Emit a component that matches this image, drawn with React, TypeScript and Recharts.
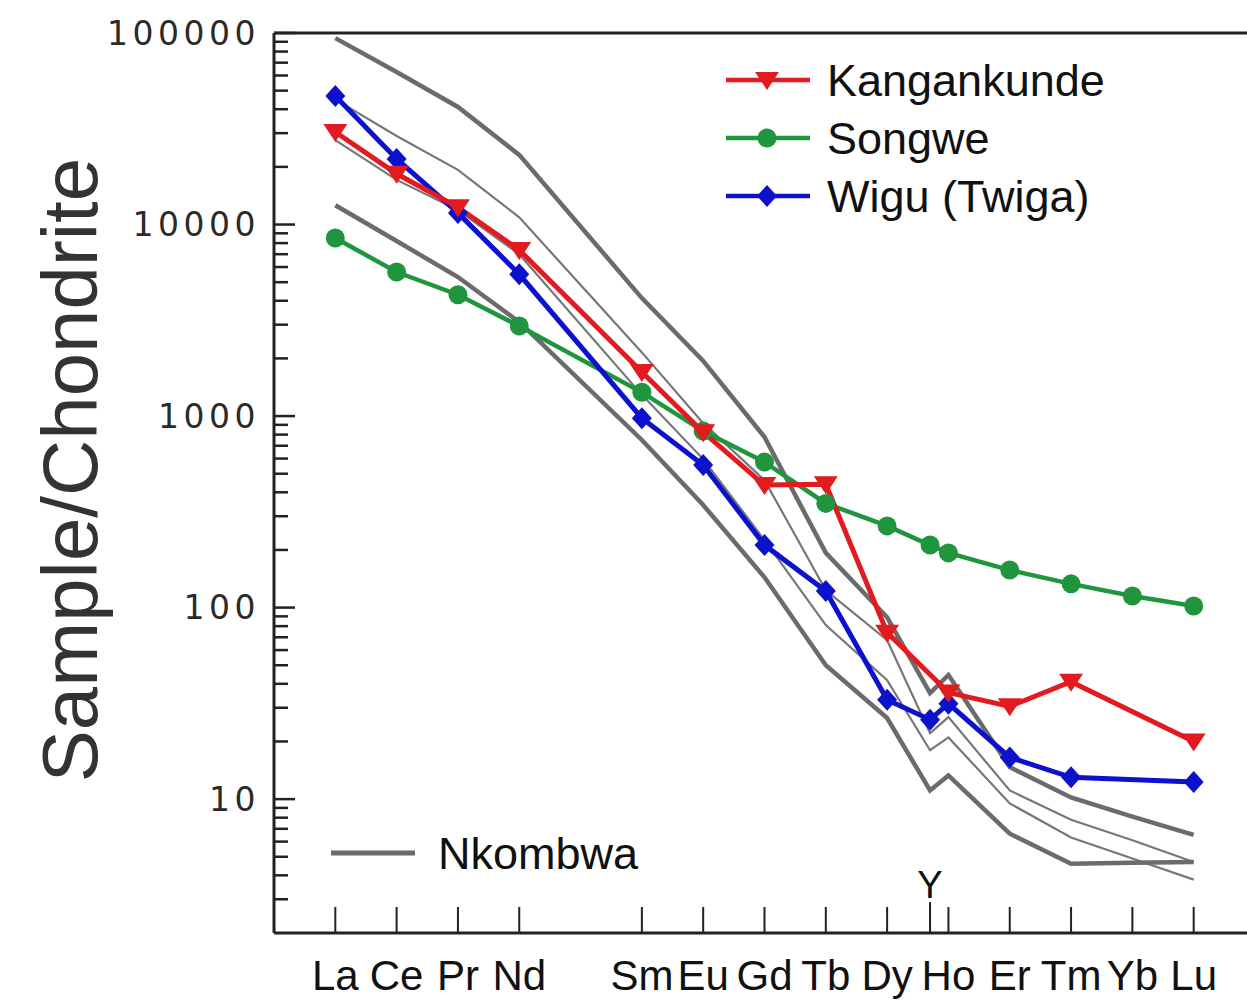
import { LineChart, Line, XAxis, YAxis, ReferenceLine, Legend } from "recharts";

const CHART_W = 1300;
const CHART_H = 1001;

// REE + Y, in order along the x axis
const ELEMENTS = ["La", "Ce", "Pr", "Nd", "Sm", "Eu", "Gd", "Tb", "Dy", "Y", "Ho", "Er", "Tm", "Yb", "Lu"];
// atomic-number style positions (Pm left empty, Y squeezed in just before Ho)
const X_POS = [57, 58, 59, 60, 62, 63, 64, 65, 66, 66.7, 67, 68, 69, 70, 71];

const KANGANKUNDE = [30400, 18400, 12300, 7360, 1700, 824, 436, 440, 74, null, 36, 30.5, 41, null, 20];
const SONGWE = [8500, 5650, 4300, 2950, 1330, 835, 575, 350, 267, 212, 193, 157, 133, 115, 102];
const WIGU = [46900, 22000, 11500, 5500, 975, 555, 212, 122, 33, 26, 31.5, 16.5, 13, null, 12.3];

// Nkombwa field, grey lines
const NKOMBWA_1 = [94000, 62600, 41100, 23100, 4130, 1940, 777, 193, 89, 35.8, 44.5, 14.7, 10.2, 8.1, 6.5];
const NKOMBWA_2 = [45000, 29000, 19300, 10900, 2150, 918, 463, 123, 67.6, 22.1, 26.8, 11.1, 7.8, 6.1, 4.7];
const NKOMBWA_3 = [27600, 17100, 11900, 7000, 1290, 596, 225, 81, 41.8, 18, 21, 9.5, 6.3, 4.9, 3.8];
const NKOMBWA_4 = [12600, 8200, 5320, 3100, 750, 343, 144, 50, 26.5, 11.1, 13.3, 6.6, 4.6, 4.65, 4.7];

const Y_LABELS = [10, 100, 1000, 10000, 100000];
const Y_MINOR_STEPS = [2, 3, 4, 5, 6, 7, 8, 9];

const LEGEND_ORDER = ["kangankunde", "songwe", "wigu"];

const RED = "#e11b1f";
const GREEN = "#1f963d";
const BLUE = "#0c12cc";
const GREY = "#6b6b6b";
const AXIS = "#222";
const SANS = "'Liberation Sans', Arial, sans-serif";

const data = X_POS.map((x, i) => ({
  x,
  kangankunde: KANGANKUNDE[i],
  songwe: SONGWE[i],
  wigu: WIGU[i],
  n1: NKOMBWA_1[i],
  n2: NKOMBWA_2[i],
  n3: NKOMBWA_3[i],
  n4: NKOMBWA_4[i],
}));

const yTicks: number[] = [];
[1, 10, 100, 1000, 10000].forEach((d) => {
  Y_MINOR_STEPS.forEach((s) => {
    if (d * s >= 3) yTicks.push(d * s);
  });
  yTicks.push(d * 10);
});

// marker shapes
function triangle(cx: number, cy: number, fill: string, key?: any) {
  return <path key={key} d={`M${cx - 12},${cy - 8}L${cx + 12},${cy - 8}L${cx},${cy + 10}Z`} fill={fill} />;
}
function circle(cx: number, cy: number, fill: string, key?: any) {
  return <circle key={key} cx={cx} cy={cy} r={9.5} fill={fill} />;
}
function diamond(cx: number, cy: number, fill: string, key?: any) {
  return <path key={key} d={`M${cx},${cy - 11}L${cx + 10},${cy}L${cx},${cy + 11}L${cx - 10},${cy}Z`} fill={fill} />;
}

const makeDot = (shape: typeof triangle, color: string) => (props: any) => {
  const { cx, cy, index } = props;
  if (cx == null || cy == null || props.value == null) return <g key={index} />;
  return shape(cx, cy, color, index);
};

function ElementTick({ x, y, payload }: any) {
  const label = ELEMENTS[X_POS.indexOf(payload.value)];
  if (label === "Y") {
    return (
      <g>
        <line x1={x} x2={x} y1={y} y2={y - 31} stroke={AXIS} strokeWidth={2} />
        <text x={x} y={y - 35} textAnchor="middle" fontSize={38} fontFamily={SANS} fill="#111">
          Y
        </text>
      </g>
    );
  }
  return (
    <g>
      <line x1={x} x2={x} y1={y} y2={y - 26} stroke={AXIS} strokeWidth={2} />
      <text x={x} y={y + 57} textAnchor="middle" fontSize={42} fontFamily={SANS} fill="#111">
        {label}
      </text>
    </g>
  );
}

function LogTick({ x, y, payload }: any) {
  const major = Y_LABELS.includes(payload.value);
  return (
    <g>
      <line x1={x} x2={x + (major ? 21 : 14)} y1={y} y2={y} stroke={AXIS} strokeWidth={2.5} />
      {major && (
        <text
          x={x - 14}
          y={y}
          dy="0.36em"
          textAnchor="end"
          fontSize={33}
          letterSpacing={4.5}
          fontFamily="'DejaVu Sans', Verdana, sans-serif"
          fill="#2a2a2a"
        >
          {payload.value}
        </text>
      )}
    </g>
  );
}

function YTitle({ viewBox }: any) {
  const cx = 70;
  const cy = viewBox.y + viewBox.height / 2 - 13;
  return (
    <text
      x={cx}
      y={cy}
      transform={`rotate(-90 ${cx} ${cy})`}
      textAnchor="middle"
      dominantBaseline="central"
      fontSize={78}
      fontFamily={SANS}
      fill="#333"
    >
      Sample/Chondrite
    </text>
  );
}

const LEGEND_SHAPES: Record<string, [typeof triangle | null, string]> = {
  kangankunde: [triangle, RED],
  songwe: [circle, GREEN],
  wigu: [diamond, BLUE],
  n1: [null, GREY],
};

function ChartLegend({ payload }: any) {
  const items = payload ?? [];
  const main = LEGEND_ORDER.map((k) => items.find((p: any) => p.dataKey === k)).filter(Boolean);
  const nk = items.find((p: any) => p.dataKey === "n1");
  const swatch = (key: string) => {
    const [shape, color] = LEGEND_SHAPES[key];
    return (
      <svg width={86} height={30} style={{ display: "block" }}>
        <line x1={1} x2={85} y1={15} y2={15} stroke={color} strokeWidth={key === "n1" ? 5 : 4.5} />
        {shape && shape(42, 15, color)}
      </svg>
    );
  };
  return (
    <div style={{ position: "relative", width: CHART_W, height: CHART_H, fontFamily: SANS, color: "#111" }}>
      <div style={{ position: "absolute", left: 725, top: 51 }}>
        {main.map((p: any) => (
          <div key={p.dataKey} style={{ display: "flex", alignItems: "center", height: 58 }}>
            {swatch(p.dataKey)}
            <span style={{ fontSize: 45, marginLeft: 16, lineHeight: 1 }}>{p.value}</span>
          </div>
        ))}
      </div>
      {nk && (
        <div style={{ position: "absolute", left: 330, top: 825, display: "flex", alignItems: "center", height: 56 }}>
          {swatch("n1")}
          <span style={{ fontSize: 45, marginLeft: 22, lineHeight: 1 }}>{nk.value}</span>
        </div>
      )}
    </div>
  );
}

export default function App() {
  return (
    <div
      style={{
        position: "absolute",
        left: 0,
        top: 0,
        width: 1247,
        height: 1001,
        overflow: "hidden",
        background: "#fff",
      }}
    >
      <LineChart
        width={CHART_W}
        height={CHART_H}
        data={data}
        margin={{ top: 33, right: CHART_W - 1255, left: 0, bottom: 0 }}
      >
        <XAxis
          type="number"
          dataKey="x"
          domain={[56, 72]}
          ticks={X_POS}
          interval={0}
          tick={<ElementTick />}
          tickLine={false}
          tickSize={0}
          tickMargin={0}
          height={68}
          axisLine={{ stroke: AXIS, strokeWidth: 3 }}
          allowDataOverflow
        />
        <YAxis
          scale="log"
          domain={[2, 100000]}
          ticks={yTicks}
          interval={0}
          tick={<LogTick />}
          tickLine={false}
          tickSize={0}
          tickMargin={0}
          width={274}
          axisLine={{ stroke: AXIS, strokeWidth: 3 }}
          allowDataOverflow
          label={<YTitle />}
        />
        <ReferenceLine y={100000} stroke={AXIS} strokeWidth={3} />
        <ReferenceLine x={72} stroke={AXIS} strokeWidth={3} />

        <Line dataKey="n1" name="Nkombwa" stroke={GREY} strokeWidth={4.5} dot={false} isAnimationActive={false} />
        <Line dataKey="n2" legendType="none" stroke="#777" strokeWidth={2.2} dot={false} isAnimationActive={false} />
        <Line dataKey="n3" legendType="none" stroke="#777" strokeWidth={2.2} dot={false} isAnimationActive={false} />
        <Line dataKey="n4" legendType="none" stroke={GREY} strokeWidth={4.5} dot={false} isAnimationActive={false} />

        <Line
          dataKey="songwe"
          name="Songwe"
          stroke={GREEN}
          strokeWidth={4.5}
          dot={makeDot(circle, GREEN)}
          activeDot={false}
          connectNulls
          isAnimationActive={false}
        />
        <Line
          dataKey="wigu"
          name="Wigu (Twiga)"
          stroke={BLUE}
          strokeWidth={5}
          dot={makeDot(diamond, BLUE)}
          activeDot={false}
          connectNulls
          isAnimationActive={false}
        />
        <Line
          dataKey="kangankunde"
          name="Kangankunde"
          stroke={RED}
          strokeWidth={5}
          dot={makeDot(triangle, RED)}
          activeDot={false}
          connectNulls
          isAnimationActive={false}
        />

        <Legend
          content={<ChartLegend />}
          layout="horizontal"
          verticalAlign="middle"
          align="center"
          wrapperStyle={{ position: "absolute", left: 0, top: 0, width: CHART_W, height: CHART_H, pointerEvents: "none" }}
        />
      </LineChart>
    </div>
  );
}
